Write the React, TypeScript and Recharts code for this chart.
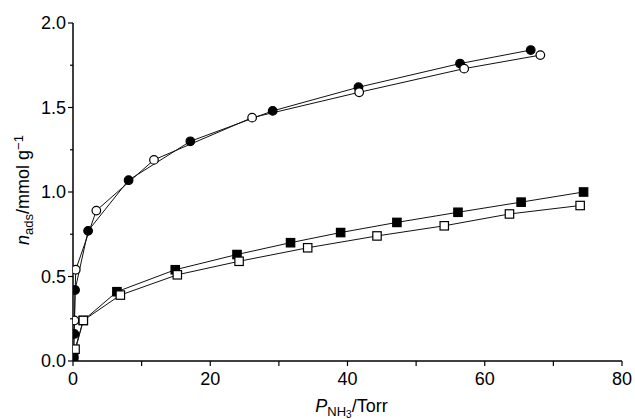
import React from 'react';
import { LineChart, Line, XAxis, YAxis } from 'recharts';

// filled circles
const fcX = [0.1, 0.2, 0.3, 2.2, 8.1, 17.1, 29.1, 41.6, 56.4, 66.7];
const fcY = [0.02, 0.16, 0.42, 0.77, 1.07, 1.3, 1.48, 1.62, 1.76, 1.84];
// open circles
const ocX = [0.2, 0.4, 3.4, 11.8, 26.1, 41.7, 57.0, 68.1];
const ocY = [0.24, 0.54, 0.89, 1.19, 1.44, 1.59, 1.73, 1.81];
// filled squares
const fsX = [0.1, 1.5, 6.4, 14.9, 23.9, 31.7, 39.0, 47.2, 56.1, 65.3, 74.4];
const fsY = [0.03, 0.24, 0.41, 0.54, 0.63, 0.7, 0.76, 0.82, 0.88, 0.94, 1.0];
// open squares
const osX = [0.3, 1.5, 6.9, 15.2, 24.2, 34.2, 44.3, 54.1, 63.6, 73.9];
const osY = [0.07, 0.24, 0.39, 0.51, 0.59, 0.67, 0.74, 0.8, 0.87, 0.92];

const xTicks = [0, 10, 20, 30, 40, 50, 60, 70, 80];
const yTicks = [0, 0.25, 0.5, 0.75, 1.0, 1.25, 1.5, 1.75, 2.0];

const toPoints = (xs: number[], ys: number[]) => xs.map((x, i) => ({ x, y: ys[i] }));

const FONT = '"Liberation Sans", Arial, Helvetica, sans-serif';
const AXIS = { stroke: '#000', strokeWidth: 1.5 };

const makeDot = (shape: 'circle' | 'square', filled: boolean) => (props: any) => {
  const { cx, cy, index } = props;
  if (cx == null || cy == null) return <g key={`d-${index}`} />;
  const fill = filled ? '#000' : '#fff';
  if (shape === 'circle') {
    return <circle key={`d-${index}`} cx={cx} cy={cy} r={4.3} fill={fill} stroke="#000" strokeWidth={1.2} />;
  }
  return <rect key={`d-${index}`} x={cx - 4.2} y={cy - 4.2} width={8.4} height={8.4} fill={fill} stroke="#000" strokeWidth={1.2} />;
};

const BottomTick = (props: any) => {
  const { x, y, payload } = props;
  const v = payload.value;
  return (
    <g>
      <line x1={x} y1={y} x2={x} y2={y + 5} stroke="#000" strokeWidth={1.2} />
      {v % 20 === 0 && (
        <text x={x} y={y + 24} textAnchor="middle" fontSize={18} fontFamily={FONT} fill="#000">
          {v}
        </text>
      )}
    </g>
  );
};

const LeftTick = (props: any) => {
  const { x, y, payload } = props;
  const v = payload.value;
  const major = Math.abs((v * 2) % 1) < 1e-6;
  return (
    <g>
      <line x1={x - (major ? 5 : 3)} y1={y} x2={x} y2={y} stroke="#000" strokeWidth={1.2} />
      {major && (
        <text x={x - 7} y={y + 6} textAnchor="end" fontSize={18} fontFamily={FONT} fill="#000">
          {v.toFixed(1)}
        </text>
      )}
    </g>
  );
};

const TopTick = (props: any) => {
  const { x, y } = props;
  return <line x1={x} y1={y} x2={x} y2={y + 5} stroke="#000" strokeWidth={1.2} />;
};

const RightTick = (props: any) => {
  const { x, y } = props;
  return <line x1={x} y1={y} x2={x - 5} y2={y} stroke="#000" strokeWidth={1.2} />;
};

const XLabel = (props: any) => {
  const { viewBox } = props;
  const cx = viewBox.x + viewBox.width / 2 + 4;
  return (
    <text x={cx} y={412} textAnchor="middle" fontSize={18} fontFamily={FONT} fill="#000">
      <tspan fontStyle="italic">P</tspan>
      <tspan fontSize={13} baselineShift="-30%">NH</tspan>
      <tspan fontSize={10} baselineShift="-55%">3</tspan>
      <tspan>/Torr</tspan>
    </text>
  );
};

const YLabel = () => {
  const cx = 29;
  const cy = 190;
  return (
    <text x={cx} y={cy} transform={`rotate(-90, ${cx}, ${cy})`} textAnchor="middle" fontSize={18} fontFamily={FONT} fill="#000">
      <tspan fontStyle="italic">n</tspan>
      <tspan fontSize={13} baselineShift="-30%">ads</tspan>
      <tspan>/mmol g</tspan>
      <tspan fontSize={13} baselineShift="45%">−1</tspan>
    </text>
  );
};

const series = [
  { name: 'fc', data: toPoints(fcX, fcY), dot: makeDot('circle', true) },
  { name: 'fs', data: toPoints(fsX, fsY), dot: makeDot('square', true) },
  { name: 'oc', data: toPoints(ocX, ocY), dot: makeDot('circle', false) },
  { name: 'os', data: toPoints(osX, osY), dot: makeDot('square', false) },
];

export default function App() {
  return (
    <div style={{ position: 'absolute', left: 0, top: 0, width: 635, height: 419, background: '#fff' }}>
      <LineChart width={635} height={419} margin={{ top: 23, right: 13, left: 23, bottom: 28 }}>
        <XAxis
          xAxisId="b"
          type="number"
          dataKey="x"
          domain={[0, 80]}
          ticks={xTicks}
          interval={0}
          allowDataOverflow
          height={30}
          tickSize={0}
          tickMargin={0}
          tickLine={false}
          axisLine={AXIS}
          tick={<BottomTick />}
          label={<XLabel />}
        />
        <XAxis
          xAxisId="t"
          orientation="top"
          type="number"
          dataKey="x"
          domain={[0, 80]}
          ticks={xTicks}
          interval={0}
          allowDataOverflow
          height={0}
          tickSize={0}
          tickMargin={0}
          tickLine={false}
          axisLine={AXIS}
          tick={<TopTick />}
        />
        <YAxis
          yAxisId="l"
          type="number"
          domain={[0, 2]}
          ticks={yTicks}
          interval={0}
          allowDataOverflow
          width={50}
          tickSize={0}
          tickMargin={0}
          tickLine={false}
          axisLine={AXIS}
          tick={<LeftTick />}
          label={<YLabel />}
        />
        <YAxis
          yAxisId="r"
          orientation="right"
          type="number"
          domain={[0, 2]}
          ticks={yTicks}
          interval={0}
          allowDataOverflow
          width={0}
          tickSize={0}
          tickMargin={0}
          tickLine={false}
          axisLine={AXIS}
          tick={<RightTick />}
        />
        {series.map((s) => (
          <Line
            key={s.name}
            xAxisId="b"
            yAxisId="l"
            data={s.data}
            dataKey="y"
            type="linear"
            stroke="#111"
            strokeWidth={1}
            dot={s.dot}
            activeDot={false}
            isAnimationActive={false}
          />
        ))}
      </LineChart>
    </div>
  );
}
